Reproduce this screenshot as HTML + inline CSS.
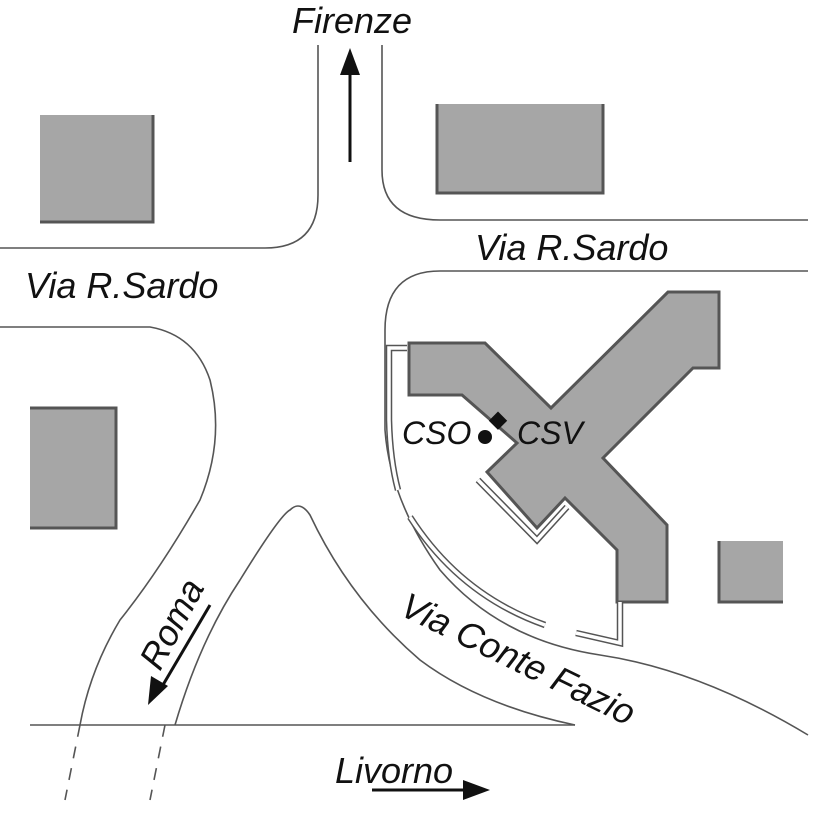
<!DOCTYPE html>
<html><head><style>body{margin:0;background:#fff}svg{display:block}text{font-family:"Liberation Sans",sans-serif;font-style:italic;fill:#111}</style></head><body>
<svg width="826" height="826" viewBox="0 0 826 826">
<g fill="none" stroke="#555" stroke-width="1.6">
<path d="M318 45 V195 Q318 248 265 248 H0"/>
<path d="M382 45 V170 Q382 220 440 220 H808"/>
<path d="M808 271 H440 Q385 271 385 330 V430 Q390 500 440 570 Q500 640 600 655 Q700 670 808 735"/>
<path d="M0 327 H150 Q195 335 210 380 Q225 440 200 500 Q160 570 120 620 Q90 670 80 725"/>
<path d="M175 725 Q200 640 240 580 Q280 515 290 510 Q300 500 310 515 Q350 600 420 660 Q480 705 575 725"/>
<path d="M30 725 H575"/>
<path d="M80 725 L65 800 M165 725 L150 800" stroke-dasharray="12 10"/>
</g>
<g fill="#a6a6a6" stroke="#555" stroke-width="3">
<rect x="40" y="115" width="113" height="107" stroke="none"/><path d="M153 115V222H40" fill="none"/>
<rect x="437" y="104" width="166" height="89" stroke="none"/><path d="M437 104V193H603V104" fill="none"/>
<rect x="30" y="408" width="86" height="120" stroke="none"/><path d="M30 408H116V528H30" fill="none"/>
<rect x="719" y="541" width="64" height="61" stroke="none"/><path d="M719 541V602H783" fill="none"/>
<path d="M409 343 L485 343 L551 408 L668 292 L719 292 L719 368 L693 368 L603 458 L667 525 L667 602 L617 602 L617 550 L565 498 L537 528 L487 472 L517 443 L462 395 L409 395 Z"/>
</g>
<g fill="none">
<g stroke="#555" stroke-width="6.5"><path d="M407 348 H389 V420 Q390 460 398 490"/><path d="M410 517 Q460 595 545 625"/><path d="M576 633 L620 643 V602"/><path d="M478 480 L537 540 L567 507"/></g>
<g stroke="#fff" stroke-width="3.5"><path d="M407 348 H389 V420 Q390 460 398 490"/><path d="M410 517 Q460 595 545 625"/><path d="M576 633 L620 643 V602"/><path d="M478 480 L537 540 L567 507"/></g>
</g>
<circle cx="485" cy="437" r="7" fill="#111"/>
<rect x="492" y="414" width="13" height="13" fill="#111" transform="rotate(45 498 420)"/>
<g stroke="#111" stroke-width="3" fill="#111">
<line x1="350" y1="162" x2="350" y2="70"/><path d="M340 75 L350 48 L360 75Z" stroke="none"/>
<line x1="210" y1="605" x2="160" y2="690"/><path d="M148 705 L151 676 L168 686Z" stroke="none"/>
<line x1="372" y1="790" x2="470" y2="790"/><path d="M490 790 L463 780 L463 800Z" stroke="none"/>
</g>
<g font-size="36">
<text x="292" y="33">Firenze</text>
<text x="475" y="260">Via R.Sardo</text>
<text x="25" y="298">Via R.Sardo</text>
<text x="398" y="614" transform="rotate(26 398 614)">Via Conte Fazio</text>
<text x="160" y="672" transform="rotate(-62 160 672)">Roma</text>
<text x="335" y="783">Livorno</text>
</g>
<g font-size="32">
<text x="402" y="444">CSO</text>
<text x="517" y="444">CSV</text>
</g>
</svg>
</body></html>
